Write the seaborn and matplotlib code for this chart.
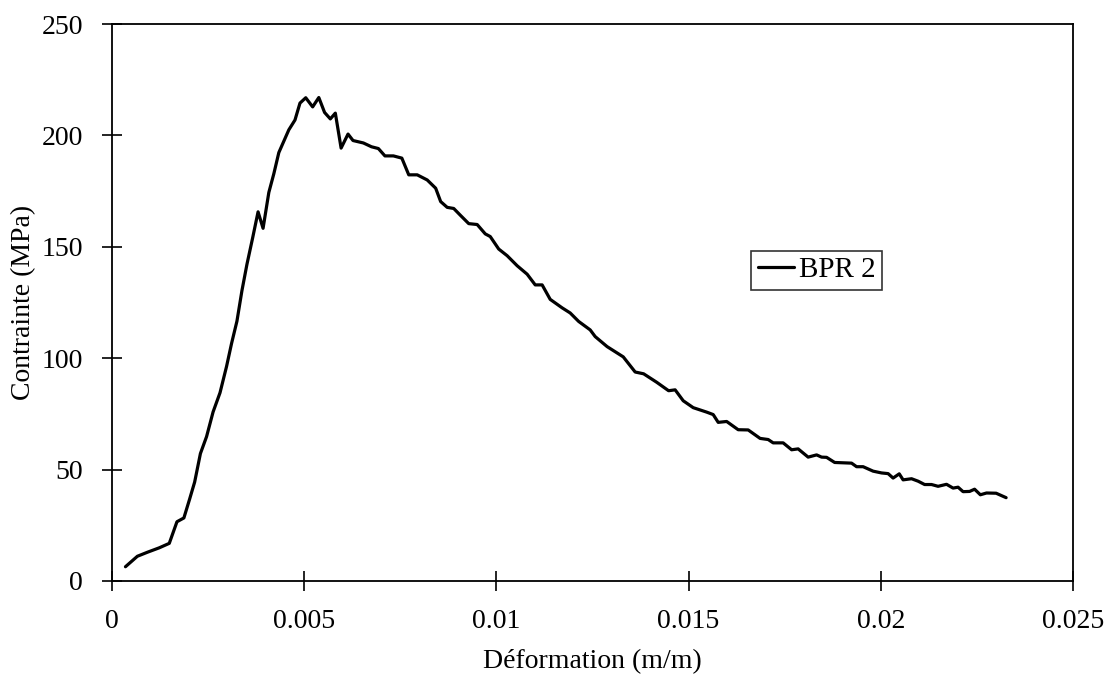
import matplotlib
matplotlib.use("Agg")
import matplotlib.pyplot as plt
import seaborn as sns
import pandas as pd

strain_milli = [0.35, 0.66, 0.92, 1.23, 1.49, 1.69, 1.87, 2.02, 2.15, 2.30, 2.46, 2.63, 2.81, 2.98,
                3.11, 3.25, 3.38, 3.51, 3.66, 3.80, 3.93, 4.08, 4.21, 4.34, 4.47, 4.60, 4.76, 4.89,
                5.04, 5.22, 5.38, 5.53, 5.68, 5.81, 5.96, 6.14, 6.27, 6.54, 6.75, 6.93, 7.10, 7.32,
                7.54, 7.72, 7.94, 8.20, 8.42, 8.55, 8.72, 8.89, 9.06, 9.28, 9.50, 9.71, 9.84, 10.06,
                10.28, 10.54, 10.80, 11.01, 11.19, 11.40, 11.71, 11.92, 12.14, 12.44, 12.57, 12.88,
                13.30, 13.61, 13.83, 14.17, 14.48, 14.65, 14.86, 15.12, 15.47, 15.64, 15.77, 15.99,
                16.29, 16.55, 16.86, 17.07, 17.20, 17.46, 17.68, 17.85, 18.11, 18.33, 18.46, 18.59,
                18.80, 19.24, 19.37, 19.54, 19.80, 20.02, 20.19, 20.32, 20.48, 20.58, 20.80, 20.97,
                21.14, 21.32, 21.49, 21.71, 21.88, 22.01, 22.14, 22.31, 22.44, 22.59, 22.75, 23.00,
                23.26]
stress = [6.4, 11.1, 12.9, 14.9, 16.9, 26.6, 28.3, 36.8, 44.4, 57.2, 64.8, 75.9, 84.5, 96.3,
          106.6, 116.6, 130.3, 142.1, 154.1, 165.7, 158.3, 174.4, 182.8, 192.3, 197.4, 202.5, 206.9, 214.5,
          216.9, 212.8, 217.0, 210.3, 207.4, 210.0, 194.3, 200.6, 197.7, 196.6, 194.9, 194.1, 190.8, 190.8,
          189.8, 182.3, 182.3, 180.0, 176.3, 170.3, 167.7, 167.2, 164.2, 160.4, 160.0, 155.8, 154.6, 149.0,
          146.0, 141.5, 137.7, 132.9, 132.9, 126.4, 122.6, 120.3, 116.5, 112.7, 109.7, 105.2,
          100.6, 93.8, 93.0, 89.2, 85.4, 85.8, 80.9, 77.8, 75.8, 74.7, 71.2, 71.6,
          67.9, 67.8, 64.0, 63.5, 62.0, 62.0, 58.9, 59.3, 55.6, 56.6, 55.6, 55.5,
          53.2, 52.9, 51.3, 51.3, 49.3, 48.5, 48.2, 46.2, 48.1, 45.4, 45.9, 44.8,
          43.3, 43.3, 42.5, 43.4, 41.7, 42.1, 40.1, 40.2, 41.2, 38.7, 39.5, 39.4,
          37.4]
series_name = "BPR 2"
x_ticks = [0, 0.005, 0.01, 0.015, 0.02, 0.025]
x_tick_labels = ["0", "0.005", "0.01", "0.015", "0.02", "0.025"]
y_ticks = [0, 50, 100, 150, 200, 250]

df = pd.DataFrame({"Déformation": [v / 1000 for v in strain_milli],
                   "Contrainte": stress,
                   "serie": series_name})

sns.set_style("white")
plt.rcParams["font.family"] = ["Liberation Serif", "DejaVu Serif"]
plt.rcParams["text.color"] = "black"
plt.rcParams["axes.labelcolor"] = "black"

fig = plt.figure(figsize=(11.07, 6.75), dpi=100)
ax = fig.add_axes([112 / 1107, 1 - 581 / 675, (1073 - 112) / 1107, (581 - 24) / 675])

sns.lineplot(data=df, x="Déformation", y="Contrainte", hue="serie", palette=["black"],
             sort=False, estimator=None, linewidth=2.3, ax=ax)

ax.set_xlim(0, 0.025)
ax.set_ylim(0, 250)
ax.set_xticks(x_ticks)
ax.set_xticklabels(x_tick_labels)
ax.set_yticks(y_ticks)
ax.tick_params(axis="x", bottom=True, direction="inout", length=14, width=1.2, pad=13,
               labelsize=20, colors="black")
ax.tick_params(axis="y", left=True, direction="inout", length=14, width=1.2, pad=14,
               labelsize=20, colors="black")
for s in ax.spines.values():
    s.set_color("black")
    s.set_linewidth(1.3)
    s.set_visible(True)

ax.set_xlabel("Déformation (m/m)", fontsize=20, labelpad=11, color="black")
ax.set_ylabel("Contrainte (MPa)", fontsize=20, labelpad=4, color="black")

leg = ax.legend(loc="center", bbox_to_anchor=(0.733, 0.558), fontsize=21, frameon=True,
                fancybox=False, edgecolor="black", handlelength=1.25, handletextpad=0.15,
                borderpad=0.22, borderaxespad=0, labelcolor="black")
leg.get_frame().set_linewidth(1.2)
leg.set_title(None)

fig.savefig("out.png", dpi=100, facecolor="white")
